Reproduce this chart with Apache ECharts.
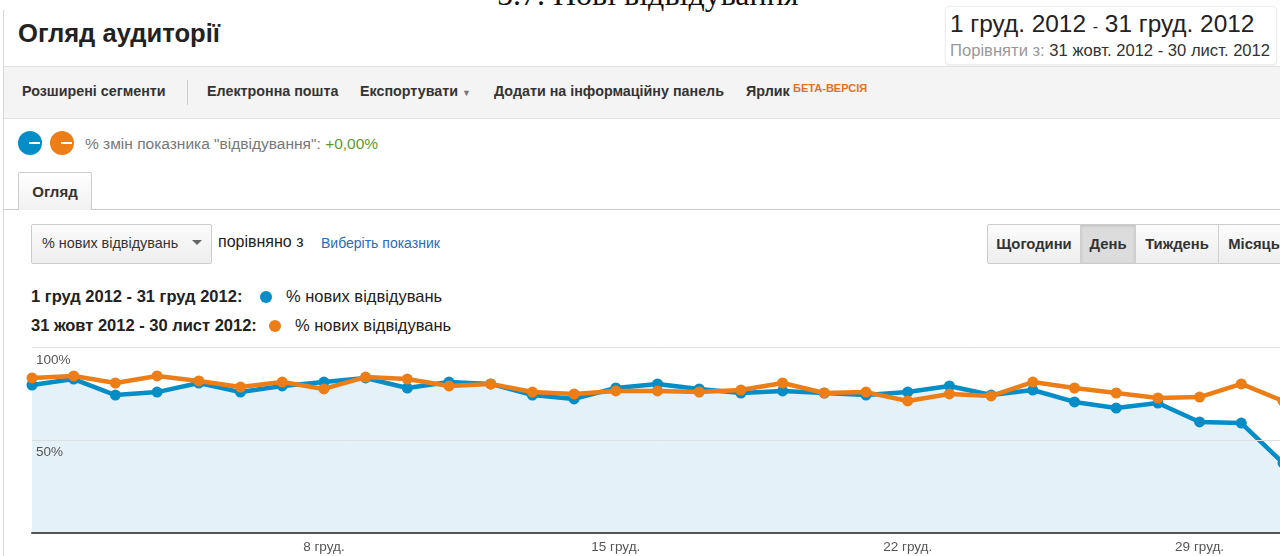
<!DOCTYPE html>
<html>
<head>
<meta charset="utf-8">
<script src="https://cdn.jsdelivr.net/npm/echarts@6/dist/echarts.min.js"></script>
<style>
  html, body { margin:0; padding:0; }
  body { width:1280px; height:556px; overflow:hidden; position:relative; background:#fff;
         font-family: Arial, "Liberation Sans", sans-serif; color:#333; }
  .abs { position:absolute; white-space:nowrap; }
  .caption { left:497px; top:-24px; font-family:"Liberation Serif", "DejaVu Serif", serif; font-size:32px; color:#111; }
  .leftborder { left:3px; top:10px; width:1px; height:546px; background:#d8d8d8; }
  .title { left:18px; top:19px; font-size:25.6px; font-weight:bold; color:#222; }
  .datebox { left:945px; top:6px; width:330px; height:57px; border:1px solid #eee; border-radius:4px;
             box-shadow:0 1px 2px rgba(0,0,0,0.08); background:#fff; }
  .date1 { left:950px; top:10px; font-size:24.4px; color:#222; }
  .date2 { left:950px; top:41px; font-size:16.6px; color:#333; }
  .toolbar { left:4px; top:66px; width:1276px; height:51px; background:#f4f4f4; border-top:1px solid #e2e2e2; border-bottom:1px solid #e2e2e2; }
  .tb { top:83px; font-size:14.3px; font-weight:bold; color:#333; }
  .sep { left:187px; top:80px; width:1px; height:25px; background:#ccc; }
  .beta { left:793px; top:82px; font-size:11px; color:#e8701e; font-weight:bold; }
  .circ { width:24px; height:24px; border-radius:12px; top:131px; }
  .dash { position:absolute; left:11px; top:11px; width:11px; height:2px; background:#fff; }
  .change { left:85px; top:135px; font-size:15.5px; color:#777; }
  .tab { left:18px; top:172px; width:72px; height:37px; border:1px solid #ccc; border-bottom:none;
         background:linear-gradient(#fff,#f1f1f1); font-size:15px; font-weight:bold; color:#333;
         text-align:center; line-height:38px; border-radius:2px 2px 0 0; }
  .tabline { left:4px; top:209px; width:1276px; height:1px; background:#ccc; }
  .dropdown { left:31px; top:224px; width:179px; height:38px; border:1px solid #ccc; border-radius:2px;
              background:linear-gradient(#fbfbfb,#eeeeee); }
  .ddtext { left:42px; top:235px; font-size:14.4px; color:#333; }
  .ddarrow { left:192px; top:240px; width:0; height:0; border-left:5px solid transparent; border-right:5px solid transparent; border-top:5px solid #666; }
  .cmp { left:218px; top:233px; font-size:16px; color:#222; }
  .pick { left:321px; top:235px; font-size:14px; color:#2a6db5; }
  .btns { left:987px; top:224px; height:38px; border:1px solid #ccc; border-radius:2px; display:flex; background:linear-gradient(#fbfbfb,#eeeeee); }
  .btn { height:38px; line-height:38px; font-size:14.8px; font-weight:bold; color:#333; text-align:center; border-right:1px solid #d0d0d0; }
  .btn.active { background:#dcdcdc; box-shadow: inset 0 1px 3px rgba(0,0,0,0.15); }
  .leg { font-size:16.5px; color:#222; }
  .legb { font-weight:bold; }
  .dot { width:12px; height:12px; border-radius:6px; }
  #chartwrap { position:absolute; left:0; top:338px; width:1280px; height:218px; overflow:hidden; }
  #chart { position:absolute; left:0; top:0; width:1300px; height:218px; }
</style>
</head>
<body>
<div class="abs caption">5.7. Нові відвідування</div>
<div class="abs leftborder"></div>
<div class="abs title">Огляд аудиторії</div>
<div class="abs datebox"></div>
<div class="abs date1">1 груд. 2012 <span style="font-size:16px">-</span> 31 груд. 2012</div>
<div class="abs date2"><span style="color:#999">Порівняти з:</span> 31 жовт. 2012 - 30 лист. 2012</div>

<div class="abs toolbar"></div>
<div class="abs tb" style="left:22px">Розширені сегменти</div>
<div class="abs sep"></div>
<div class="abs tb" style="left:207px">Електронна пошта</div>
<div class="abs tb" style="left:360px">Експортувати <span style="font-size:9px;color:#777">▼</span></div>
<div class="abs tb" style="left:494px">Додати на інформаційну панель</div>
<div class="abs tb" style="left:746px">Ярлик</div>
<div class="abs beta">БЕТА-ВЕРСІЯ</div>

<div class="abs circ" style="left:18px;background:#058dc7"><div class="dash"></div></div>
<div class="abs circ" style="left:50px;background:#ed7e17"><div class="dash"></div></div>
<div class="abs change">% змін показника "відвідування": <span style="color:#5a9a34">+0,00%</span></div>

<div class="abs tabline"></div>
<div class="abs tab">Огляд</div>

<div class="abs dropdown"></div>
<div class="abs ddtext">% нових відвідувань</div>
<div class="abs ddarrow"></div>
<div class="abs cmp">порівняно з</div>
<div class="abs pick">Виберіть показник</div>

<div class="abs btns">
  <div class="btn" style="width:92px">Щогодини</div>
  <div class="btn active" style="width:54px">День</div>
  <div class="btn" style="width:82px">Тиждень</div>
  <div class="btn" style="width:70px;border-right:none">Місяць</div>
</div>

<div class="abs leg legb" style="left:31px;top:287px">1 груд 2012 - 31 груд 2012:</div>
<div class="abs dot" style="left:260px;top:291px;background:#058dc7"></div>
<div class="abs leg" style="left:286px;top:287px">% нових відвідувань</div>
<div class="abs leg legb" style="left:31px;top:316px">31 жовт 2012 - 30 лист 2012:</div>
<div class="abs dot" style="left:269px;top:320px;background:#ed7e17"></div>
<div class="abs leg" style="left:295px;top:316px">% нових відвідувань</div>

<div id="chartwrap"><div id="chart"></div></div>

<script>
const categories = ['1 груд.','2 груд.','3 груд.','4 груд.','5 груд.','6 груд.','7 груд.','8 груд.','9 груд.','10 груд.',
  '11 груд.','12 груд.','13 груд.','14 груд.','15 груд.','16 груд.','17 груд.','18 груд.','19 груд.','20 груд.',
  '21 груд.','22 груд.','23 груд.','24 груд.','25 груд.','26 груд.','27 груд.','28 груд.','29 груд.','30 груд.','31 груд.'];
const tickLabels = ['8 груд.','15 груд.','22 груд.','29 груд.'];
const yTicks = [50, 100];
const decValues = [79.5, 82.7, 74.1, 75.7, 80.6, 75.7, 79.0, 81.1, 83.3, 77.9,
  81.1, 80.1, 74.1, 72.0, 77.9, 80.1, 77.4, 75.2, 76.3, 75.2,
  74.1, 75.7, 79.0, 74.1, 76.8, 70.4, 67.1, 69.8, 59.6, 59.0, 37.5];
const octNovValues = [83.3, 84.4, 80.6, 84.4, 81.7, 78.4, 81.1, 77.4, 83.8, 82.7,
  79.0, 80.1, 75.7, 74.7, 76.3, 76.3, 75.7, 76.8, 80.6, 75.2,
  75.7, 70.9, 74.7, 73.6, 81.1, 77.9, 75.2, 72.5, 73.0, 80.1, 70.9];

const chart = echarts.init(document.getElementById('chart'), null, {renderer:'canvas'});
chart.setOption({
  animation: false,
  grid: { left: 32, right: 17, top: 9, bottom: 23.5 },
  xAxis: {
    type: 'category',
    data: categories,
    boundaryGap: false,
    z: 6,
    axisLine: { show: true, lineStyle: { color: '#555', width: 2 } },
    axisTick: { show: false },
    axisLabel: {
      interval: function (i, v) { return tickLabels.indexOf(v) >= 0; },
      color: '#555', fontSize: 13.5, margin: 8,
      fontFamily: 'Arial, "Liberation Sans", sans-serif'
    },
    splitLine: { show: false }
  },
  yAxis: {
    type: 'value',
    min: 0, max: 100, interval: 50,
    z: 1,
    axisLine: { show: false },
    axisTick: { show: false },
    axisLabel: {
      inside: true, margin: 4, verticalAlign: 'top', padding: [6, 0, 0, 0],
      color: '#555', fontSize: 13.5,
      fontFamily: 'Arial, "Liberation Sans", sans-serif',
      formatter: function (v) { return yTicks.indexOf(v) >= 0 ? v + '%' : ''; }
    },
    splitLine: { show: true, lineStyle: { color: '#dcdfe2', width: 1 } }
  },
  series: [
    {
      name: '1 груд 2012 - 31 груд 2012',
      type: 'line',
      data: decValues,
      symbol: 'circle', symbolSize: 11, showAllSymbol: true,
      lineStyle: { color: '#058dc7', width: 4.5 },
      itemStyle: { color: '#058dc7' },
      areaStyle: { color: '#e5f1f8', opacity: 1 },
      z: 0
    },
    {
      name: '31 жовт 2012 - 30 лист 2012',
      type: 'line',
      data: octNovValues,
      symbol: 'circle', symbolSize: 11, showAllSymbol: true,
      lineStyle: { color: '#ed7e17', width: 4.5 },
      itemStyle: { color: '#ed7e17' },
      z: 2
    }
  ]
});
</script>
</body>
</html>
